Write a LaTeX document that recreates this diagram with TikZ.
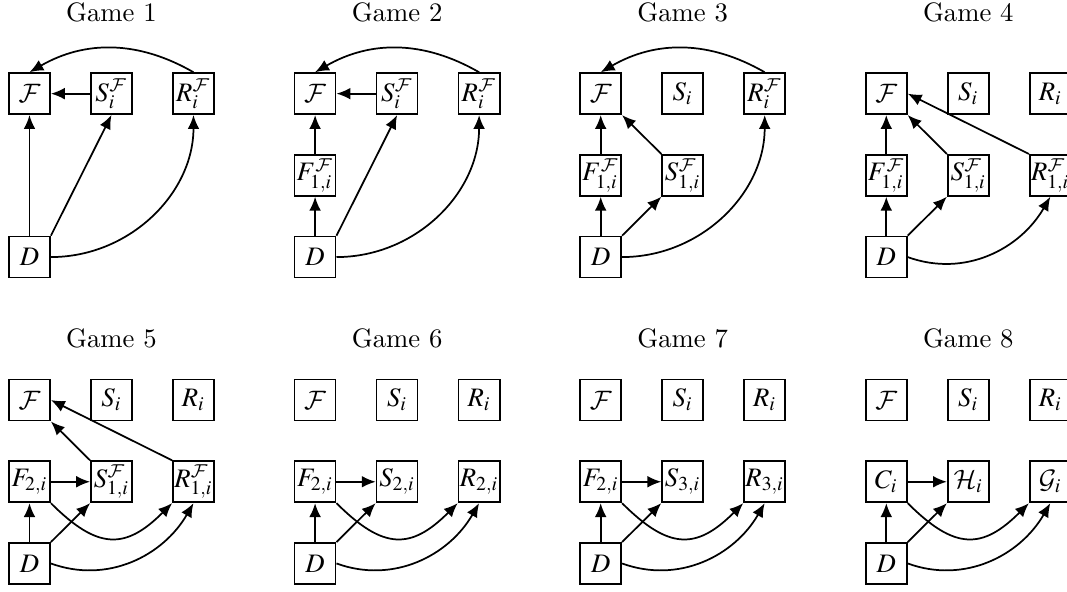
\documentclass[tikz,border=0pt]{standalone}
\usepackage{mathptmx}
\usepackage{tikz}
\usetikzlibrary{arrows.meta}
\DeclareMathAlphabet{\mathcal}{OMS}{cmsy}{m}{n}
\newcommand{\fclass}{\mathcal{F}}

\begin{document}
\begin{tikzpicture}[x=30.75pt,y=30.64pt,line width=0.65pt,
  >={Latex[length=5.2pt,width=4.4pt]},
  box/.style={draw,minimum size=15.4pt,inner sep=0pt},
  title/.style={anchor=base}]
\useasboundingbox (-11.06pt,-125.6pt) rectangle (389.06pt,96.4pt);

% Game 1
\begin{scope}
\node(t1)[title] at (1,0) [yshift=88.5pt] {Game 1};
\node(f1)[box] at (0,2) {$\fclass$};
\node(s1)[box] at (1,2) {$S_i^{\fclass}$};
\node(r1)[box] at (2,2) {$R_i^{\fclass}$};
\node(d1)[box] at (0,0) {$D$};
\path[->] (s1) edge (f1)
		(d1) edge (f1)
		(d1.north east) edge (s1.south)
		(r1.north) edge[bend right=30] (f1.north)
		(d1.east) edge[out=0,in=-90] (r1.south);
\end{scope}

% Game 2
\begin{scope}[xshift=107.1pt]
\node(t2)[title] at (1,0) [yshift=88.5pt] {Game 2};
\node(f2)[box] at (0,2) {$\fclass$};
\node(s2)[box] at (1,2) {$S_i^{\fclass}$};
\node(r2)[box] at (2,2) {$R_i^{\fclass}$};
\node(fm2)[box] at (0,1) {$F_{1,i}^{\fclass}$};
\node(d2)[box] at (0,0) {$D$};
\path[->] (s2) edge (f2)
		(fm2) edge (f2)
		(d2) edge (fm2)
		(d2.north east) edge (s2.south)
		(r2.north) edge[bend right=30] (f2.north)
		(d2.east) edge[out=0,in=-90] (r2.south);
\end{scope}

% Game 3
\begin{scope}[xshift=214.2pt]
\node(t3)[title] at (1,0) [yshift=88.5pt] {Game 3};
\node(f3)[box] at (0,2) {$\fclass$};
\node(s3)[box] at (1,2) {$S_i$};
\node(r3)[box] at (2,2) {$R_i^{\fclass}$};
\node(fm3)[box] at (0,1) {$F_{1,i}^{\fclass}$};
\node(sm3)[box] at (1,1) {$S_{1,i}^{\fclass}$};
\node(d3)[box] at (0,0) {$D$};
\path[->] (fm3) edge (f3)
		(d3) edge (fm3)
		(sm3.north west) edge (f3.south east)
		(d3.north east) edge (sm3.south west)
		(r3.north) edge[bend right=30] (f3.north)
		(d3.east) edge[out=0,in=-90] (r3.south);
\end{scope}

% Game 4
\begin{scope}[xshift=321.3pt]
\node(t4)[title] at (1,0) [yshift=88.5pt] {Game 4};
\node(f4)[box] at (0,2) {$\fclass$};
\node(s4)[box] at (1,2) {$S_i$};
\node(r4)[box] at (2,2) {$R_i$};
\node(fm4)[box] at (0,1) {$F_{1,i}^{\fclass}$};
\node(sm4)[box] at (1,1) {$S_{1,i}^{\fclass}$};
\node(rm4)[box] at (2,1) {$R_{1,i}^{\fclass}$};
\node(d4)[box] at (0,0) {$D$};
\path[->] (fm4) edge (f4)
		(d4) edge (fm4)
		(sm4.north west) edge (f4.south east)
		(rm4.north west) edge (f4.east)
		(d4.north east) edge (sm4.south west)
		(d4.east) edge[out=-20,in=-120] (rm4.south);
\end{scope}

% Game 5
\begin{scope}[yshift=-114.9pt]
\node(t5)[title] at (1,0) [yshift=80.8pt] {Game 5};
\node(f5)[box] at (0,2) {$\fclass$};
\node(s5)[box] at (1,2) {$S_i$};
\node(r5)[box] at (2,2) {$R_i$};
\node(fm5)[box] at (0,1) {$F_{2,i}$};
\node(sm5)[box] at (1,1) {$S_{1,i}^{\fclass}$};
\node(rm5)[box] at (2,1) {$R_{1,i}^{\fclass}$};
\node(d5)[box] at (0,0) {$D$};
\path[->] (fm5) edge (sm5)
		(d5) edge (fm5)
		(sm5.north west) edge (f5.south east)
		(rm5.north west) edge (f5.east)
		(d5.north east) edge (sm5.south west)
		(fm5.south east) edge[out=-45,in=-135,looseness=1.4] (rm5.south west)
		(d5.east) edge[out=-20,in=-120] (rm5.south);
\end{scope}

% Game 6
\begin{scope}[xshift=107.1pt,yshift=-114.9pt]
\node(t6)[title] at (1,0) [yshift=80.8pt] {Game 6};
\node(f6)[box] at (0,2) {$\fclass$};
\node(s6)[box] at (1,2) {$S_i$};
\node(r6)[box] at (2,2) {$R_i$};
\node(fm6)[box] at (0,1) {$F_{2,i}$};
\node(sm6)[box] at (1,1) {$S_{2,i}$};
\node(rm6)[box] at (2,1) {$R_{2,i}$};
\node(d6)[box] at (0,0) {$D$};
\path[->] (fm6) edge (sm6)
		(d6) edge (fm6)
		(d6.north east) edge (sm6.south west)
		(fm6.south east) edge[out=-45,in=-135,looseness=1.4] (rm6.south west)
		(d6.east) edge[out=-20,in=-120] (rm6.south);
\end{scope}

% Game 7
\begin{scope}[xshift=214.2pt,yshift=-114.9pt]
\node(t7)[title] at (1,0) [yshift=80.8pt] {Game 7};
\node(f7)[box] at (0,2) {$\fclass$};
\node(s7)[box] at (1,2) {$S_i$};
\node(r7)[box] at (2,2) {$R_i$};
\node(fm7)[box] at (0,1) {$F_{2,i}$};
\node(sm7)[box] at (1,1) {$S_{3,i}$};
\node(rm7)[box] at (2,1) {$R_{3,i}$};
\node(d7)[box] at (0,0) {$D$};
\path[->] (fm7) edge (sm7)
		(d7) edge (fm7)
		(d7.north east) edge (sm7.south west)
		(fm7.south east) edge[out=-45,in=-135,looseness=1.4] (rm7.south west)
		(d7.east) edge[out=-20,in=-120] (rm7.south);
\end{scope}

% Game 8
\begin{scope}[xshift=321.3pt,yshift=-114.9pt]
\node(t8)[title] at (1,0) [yshift=80.8pt] {Game 8};
\node(f8)[box] at (0,2) {$\fclass$};
\node(s8)[box] at (1,2) {$S_i$};
\node(r8)[box] at (2,2) {$R_i$};
\node(cm8)[box] at (0,1) {$C_i$};
\node(hm8)[box] at (1,1) {$\mathcal{H}_i$};
\node(gm8)[box] at (2,1) {$\mathcal{G}_i$};
\node(d8)[box] at (0,0) {$D$};
\path[->] (cm8) edge (hm8)
		(d8) edge (cm8)
		(d8.north east) edge (hm8.south west)
		(cm8.south east) edge[out=-45,in=-135,looseness=1.4] (gm8.south west)
		(d8.east) edge[out=-20,in=-120] (gm8.south);
\end{scope}
\end{tikzpicture}
\end{document}
